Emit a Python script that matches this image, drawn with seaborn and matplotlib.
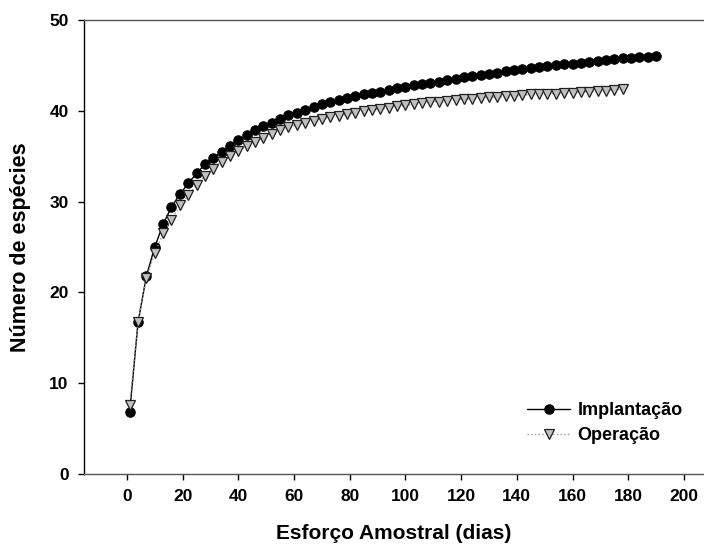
import matplotlib
matplotlib.use("Agg")
import matplotlib.pyplot as plt
import seaborn as sns
import pandas as pd

# Sampling effort (days) for each phase
dias_implantacao = list(range(1, 191, 3))
dias_operacao = list(range(1, 179, 3))

# Cumulative species richness
especies_implantacao = [
    6.8, 16.7, 21.8, 25.0, 27.5, 29.4, 30.8, 32.0, 33.1, 34.1,
    34.8, 35.5, 36.1, 36.8, 37.3, 37.9, 38.3, 38.7, 39.1, 39.5,
    39.8, 40.1, 40.4, 40.7, 41.0, 41.2, 41.4, 41.6, 41.8, 42.0,
    42.1, 42.3, 42.5, 42.6, 42.8, 42.9, 43.1, 43.2, 43.4, 43.5,
    43.7, 43.8, 43.9, 44.1, 44.2, 44.4, 44.5, 44.6, 44.7, 44.8,
    44.9, 45.0, 45.1, 45.2, 45.3, 45.4, 45.5, 45.6, 45.7, 45.8,
    45.85, 45.9, 45.95, 46.0,
]
especies_operacao = [
    7.6, 16.7, 21.6, 24.3, 26.5, 28.0, 29.6, 30.7, 31.8, 32.8,
    33.6, 34.4, 35.0, 35.6, 36.1, 36.6, 37.0, 37.5, 37.9, 38.2,
    38.4, 38.7, 38.9, 39.1, 39.3, 39.4, 39.6, 39.8, 40.0, 40.1,
    40.2, 40.3, 40.5, 40.6, 40.7, 40.9, 41.0, 41.0, 41.1, 41.2,
    41.3, 41.3, 41.4, 41.5, 41.5, 41.6, 41.6, 41.7, 41.8, 41.8,
    41.9, 41.9, 42.0, 42.0, 42.1, 42.1, 42.2, 42.2, 42.3, 42.4,
]

x_ticks = [0, 20, 40, 60, 80, 100, 120, 140, 160, 180, 200]
y_ticks = [0, 10, 20, 30, 40, 50]

sns.set_style("ticks")
plt.rcParams["font.family"] = ["Liberation Sans", "DejaVu Sans"]
plt.rcParams["font.weight"] = "bold"
plt.rcParams["text.color"] = "black"
plt.rcParams["axes.labelcolor"] = "black"
plt.rcParams["xtick.color"] = "black"
plt.rcParams["ytick.color"] = "black"

df_imp = pd.DataFrame({"dias": dias_implantacao, "especies": especies_implantacao})
df_op = pd.DataFrame({"dias": dias_operacao, "especies": especies_operacao})

fig = plt.figure(figsize=(7.04, 5.48), dpi=100)
ax = fig.add_axes([84 / 704, 1 - 474 / 548, 1 - 84 / 704, (474 - 20) / 548])

sns.lineplot(data=df_imp, x="dias", y="especies", ax=ax, color="black",
             linewidth=1.0, marker="o", markersize=6.8, markerfacecolor="black",
             markeredgecolor="black", label="Implantação", zorder=3)
sns.lineplot(data=df_op, x="dias", y="especies", ax=ax, color="#9a9a80",
             linewidth=1.0, linestyle=":", marker="v", markersize=7.8,
             markerfacecolor="#c0c0c0", markeredgecolor="#202020",
             markeredgewidth=0.9, label="Operação", zorder=4)

ax.set_xlim(-15.4, 207.2)
ax.set_ylim(0, 50)
ax.set_xticks(x_ticks)
ax.set_yticks(y_ticks)
ax.tick_params(direction="out", length=4, width=1, colors="black",
               labelsize=12.5, pad=7)
for lab in ax.get_xticklabels() + ax.get_yticklabels():
    lab.set_fontweight("bold")

ax.spines["right"].set_visible(False)
ax.spines["left"].set_color("black")
ax.spines["top"].set_color("#555555")
ax.spines["bottom"].set_color("#555555")
for s in ax.spines.values():
    s.set_linewidth(1.0)

ax.set_xlabel("Esforço Amostral (dias)", fontsize=15, fontweight="bold",
              labelpad=14, color="black")
ax.set_ylabel("Número de espécies", fontsize=15.5, fontweight="bold",
              labelpad=13, color="black")

leg = ax.legend(loc="lower right", bbox_to_anchor=(0.992, 0.03), frameon=False,
                fontsize=13, handlelength=2.4, handletextpad=0.4,
                labelspacing=0.45)
for t in leg.get_texts():
    t.set_fontweight("bold")
    t.set_color("black")

fig.savefig("out.png", dpi=100)
